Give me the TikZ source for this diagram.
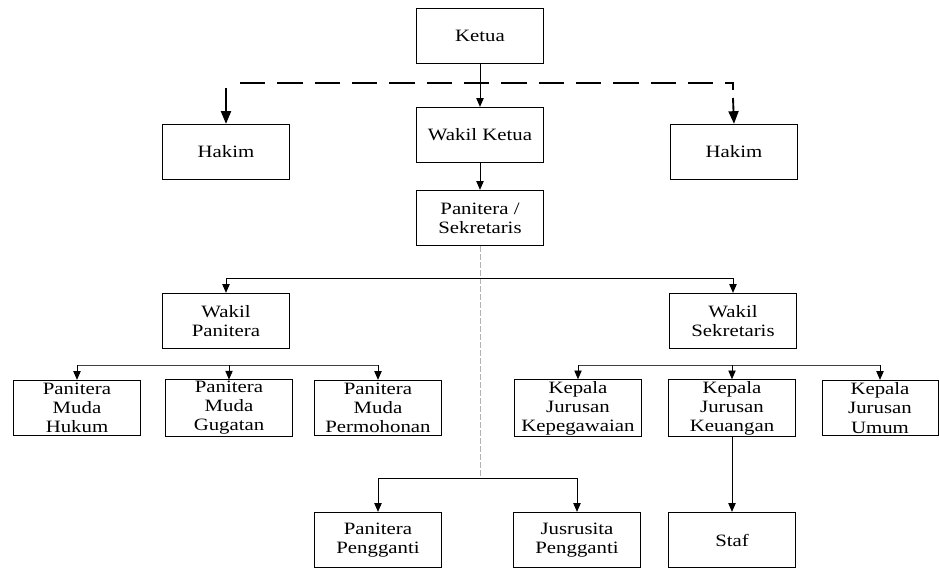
\documentclass[tikz,border=0pt]{standalone}
\usepackage{fontspec}
\setmainfont{Liberation Serif}[FakeStretch=1.2]
\usetikzlibrary{arrows.meta}
\begin{document}
\begin{tikzpicture}[x=0.75pt,y=-0.75pt,
  box/.style={draw,line width=0.75pt,minimum width=95pt,minimum height=41.5pt,inner sep=1pt,align=center,font=\fontsize{13}{14.3}\selectfont},
  arr/.style={line width=0.6pt,-{Triangle[width=5.5pt,length=6.5pt]}},
  conn/.style={line width=0.6pt,black!75},
  bigarr/.style={line width=1.4pt,-{Triangle[width=7.5pt,length=9.5pt]}},
  dashline/.style={line width=1.4pt,dash pattern=on 19pt off 9pt},
  grayd/.style={line width=0.5pt,gray!60,dash pattern=on 4pt off 2pt}]
\useasboundingbox (0,0) rectangle (940,569);
\node[box] (ketua) at (480,36) {Ketua};
\node[box] (hakimL) at (226,152) {Hakim};
\node[box] (wk) at (480,135) {Wakil Ketua};
\node[box] (hakimR) at (734,152) {Hakim};
\node[box] (pan) at (480,218) {Panitera /\\Sekretaris};
\node[box] (wp) at (226,321) {Wakil\\Panitera};
\node[box] (ws) at (733,321) {Wakil\\Sekretaris};
\node[box] (pm1) at (77,408) {Panitera\\Muda\\Hukum};
\node[box] (pm2) at (229,408) {Panitera\\Muda\\Gugatan};
\node[box] (pm3) at (378,408) {Panitera\\Muda\\Permohonan};
\node[box] (kj1) at (578,408) {Kepala\\Jurusan\\Kepegawaian};
\node[box] (kj2) at (732,408) {Kepala\\Jurusan\\Keuangan};
\node[box,minimum width=87pt] (kj3) at (880,408) {Kepala\\Jurusan\\Umum};
\node[box] (pp) at (378,540) {Panitera\\Pengganti};
\node[box] (js) at (577,540) {Jusrusita\\Pengganti};
\node[box] (staf) at (732,540) {Staf};
% top
\draw[arr] (ketua.south) -- (wk.north);
\draw[arr] (wk.south) -- (pan.north);
\coordinate (dl) at (240,83);
\coordinate (dr) at (733,83);
\coordinate (dre) at (733,90);
\coordinate (al) at (226,88);
\coordinate (ar) at (733,98);
\draw[dashline] (dl) -- (dr) -- (dre);
\draw[bigarr] (al) -- (hakimL.north);
\draw[bigarr] (ar) -- (hakimR.north);
% middle
\coordinate (b1) at (480,278);
\coordinate (jb) at (480,478);
\draw[grayd] (pan.south) -- (jb);
\draw[conn] (wp.north |- b1) -- (ws.north |- b1);
\draw[arr] (b1) -| (wp.north);
\draw[arr] (b1) -| (ws.north);
% left branch
\coordinate (hp) at (229,365);
\draw[conn] (pm1.north |- hp) -- (pm3.north |- hp);
\draw[arr] (pm1.north |- hp) -- (pm1.north);
\draw[arr] (hp) -- (pm2.north);
\draw[arr] (pm3.north |- hp) -- (pm3.north);
% right branch
\coordinate (hs) at (732,365);
\draw[conn] (kj1.north |- hs) -- (kj3.north |- hs);
\draw[arr] (kj1.north |- hs) -- (kj1.north);
\draw[arr] (hs) -- (kj2.north);
\draw[arr] (kj3.north |- hs) -- (kj3.north);
\draw[arr] (kj2.south) -- (staf.north);
% bottom
\draw[arr] (jb) -| (pp.north);
\draw[arr] (jb) -| (js.north);
\end{tikzpicture}
\end{document}
